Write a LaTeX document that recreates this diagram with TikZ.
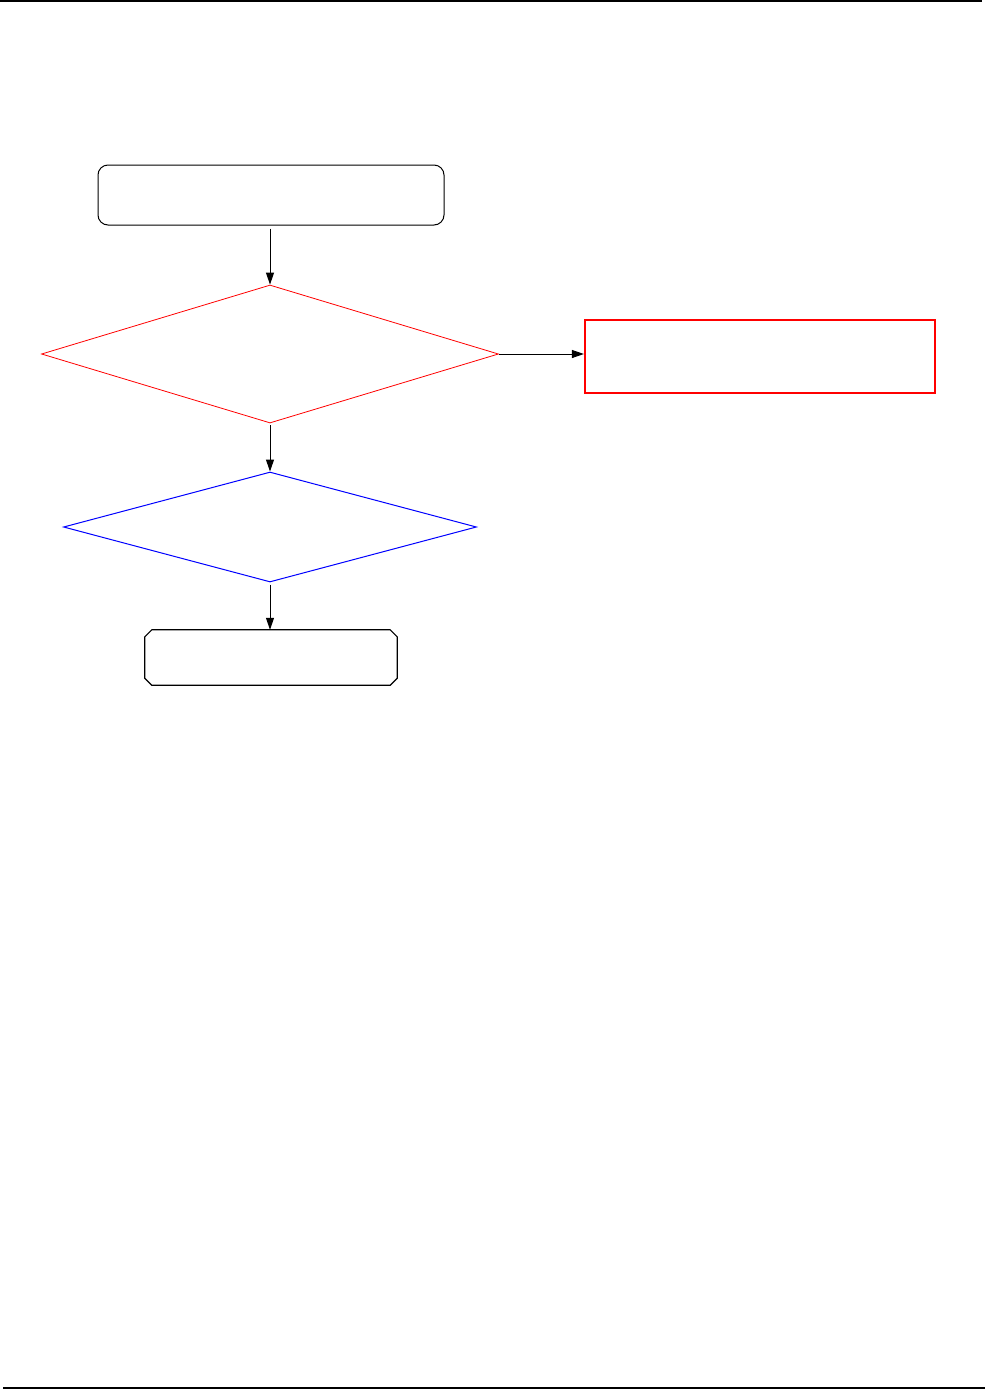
\documentclass[tikz,border=0pt]{standalone}
\usetikzlibrary{shapes.geometric,arrows.meta}
\begin{document}
\begin{tikzpicture}[x=1pt,y=-1pt,
  conn/.style={draw=black,line width=1pt,-{Triangle[length=12pt,width=8pt]}},
  rule/.style={draw=black,line width=1.2pt},
  startbox/.style={draw=black,line width=1pt,rounded corners=10pt,minimum width=346pt,minimum height=60pt,inner sep=0pt},
  endbox/.style={minimum width=252pt,minimum height=55pt,inner sep=0pt},
  endline/.style={draw=black,line width=1.2pt},
  reddia/.style={draw=red,line width=0.8pt,diamond,minimum width=457pt,minimum height=138pt,inner sep=0pt},
  bluedia/.style={draw=blue,line width=1pt,diamond,minimum width=413pt,minimum height=110pt,inner sep=0pt},
  redbox/.style={draw=red,line width=2.2pt,minimum width=350pt,minimum height=73pt,inner sep=0pt}]
\useasboundingbox (0,0) rectangle (995,1390);
\coordinate (tl) at (0,1);
\coordinate (tr) at (982,1);
\coordinate (bl) at (3,1388);
\coordinate (br) at (985,1388);
\draw[rule] (tl) -- (tr);
\draw[rule] (bl) -- (br);
\node[startbox] (start) at (271,195) {};
\node[reddia] (d1) at (270,354) {};
\node[redbox] (r) at (760,356.5) {};
\node[bluedia] (d2) at (270,527) {};
\node[endbox] (end) at (271,657.5) {};
\draw[endline] ([xshift=7pt]end.north west) -- ([xshift=-7pt]end.north east)
  -- ([yshift=-7pt]end.north east) -- ([yshift=7pt]end.south east)
  -- ([xshift=-7pt]end.south east) -- ([xshift=7pt]end.south west)
  -- ([yshift=7pt]end.south west) -- ([yshift=-7pt]end.north west) -- cycle;
\draw[conn] ([yshift=-3pt]start.south -| d1.north) -- (d1.north);
\draw[conn] (d1.east) -- (d1.east -| r.west);
\draw[conn] ([yshift=-2pt]d1.south) -- (d2.north);
\draw[conn] ([yshift=-2pt]d2.south) -- (end.north -| d2.south);
\end{tikzpicture}
\end{document}
